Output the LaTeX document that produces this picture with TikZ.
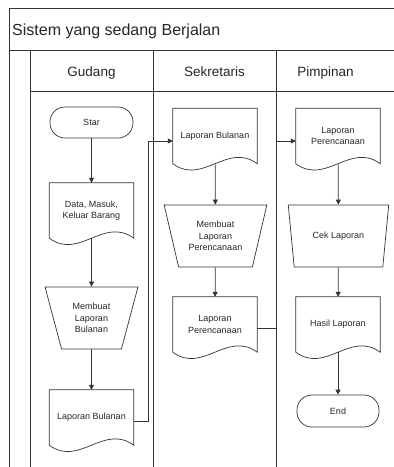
\documentclass[tikz,border=0pt]{standalone}
\usepackage{fontspec}
\setmainfont{Liberation Sans}
\usetikzlibrary{shapes.geometric,arrows.meta}

\begin{document}
\begin{tikzpicture}[x=1pt,y=-1pt,
  garis/.style={draw=black!80, line width=0.7pt},
  alur/.style={garis, -{Triangle[length=5pt,width=5pt]}},
  isi/.style={font=\fontsize{9}{11.5}\selectfont, text=black!85, align=center},
  terminal/.style={isi, garis, rounded corners=15pt, minimum width=83pt, minimum height=31pt},
  proses/.style={isi, garis, trapezium, shape border rotate=180, trapezium angle=71,
    trapezium stretches=true, minimum height=62pt, inner sep=1pt},
  dok/.style={isi, minimum width=84pt, minimum height=55pt, inner sep=0pt},
  kepala/.style={anchor=base, font=\fontsize{13.5}{15}\selectfont, text=black!85}]
\useasboundingbox (0,0) rectangle (394,467);
\draw[garis] (9,467) -- (9,8) -- (394,8);
\draw[garis] (9,50) -- (394,50);
\draw[garis] (30,50) -- (30,467);
\draw[garis] (30,91) -- (394,91);
\foreach \x in {153,276} \draw[garis] (\x,50) -- (\x,467);
\node[anchor=base west, inner sep=0pt, font=\fontsize{16}{18}\selectfont, text=black!85] (judul) at (12,35) {Sistem yang sedang Berjalan};
\node[kepala] (gudang) at (91.5,76) {Gudang};
\node[kepala] (sekretaris) at (214.5,76) {Sekretaris};
\node[kepala] (pimpinan) at (325.5,76) {Pimpinan};

\node[terminal] (star) at (91.5,122.5) {Star};
\node[dok] (data) at (91.5,210.5) {Data, Masuk,\\Keluar Barang};
\node[proses, minimum width=93pt] (buatlb) at (91.5,318) {Membuat\\Laporan\\Bulanan};
\node[dok] (lb1) at (91.5,417.5) {Laporan Bulanan};
\node[dok] (lb2) at (215,136) {Laporan Bulanan};
\node[proses, minimum width=103pt] (buatlp) at (215.5,236) {Membuat\\Laporan\\Perencanaan};
\node[dok] (lp1) at (215,324.5) {Laporan\\Perencanaan};
\node[dok] (lp2) at (338,136) {Laporan\\Perencanaan};
\node[proses, minimum width=101pt] (cek) at (338.5,236) {Cek Laporan};
\node[dok] (hasil) at (338,324.5) {Hasil Laporan};
\node[terminal, minimum width=82pt, minimum height=32pt] (end) at (338,411) {End};
\foreach \d in {data,lb1,lb2,lp1,lp2,hasil}
  \draw[garis] (\d.south west) -- (\d.north west) -- (\d.north east) -- (\d.south east)
    .. controls +(-30,-22) and +(30,22) .. (\d.south west) -- cycle;

\draw[alur] (star) -- (data);
\draw[alur] (data) -- (buatlb);
\draw[alur] (buatlb) -- (lb1);
\draw[alur] (lb2) -- (buatlp);
\draw[alur] (buatlp) -- (lp1);
\draw[alur] (lp2) -- (cek);
\draw[alur] (cek) -- (hasil);
\draw[alur] (hasil) -- (end);
\coordinate (tekuk1) at (148,141);
\draw[alur] ([yshift=-4pt]lb1.east) -| (tekuk1) -- (tekuk1 -| lb2.west);
\coordinate (tekuk2) at (276,141);
\draw[alur] ([yshift=-3.5pt]lp1.east) -| (tekuk2) -- (tekuk2 -| lp2.west);
\end{tikzpicture}
\end{document}
